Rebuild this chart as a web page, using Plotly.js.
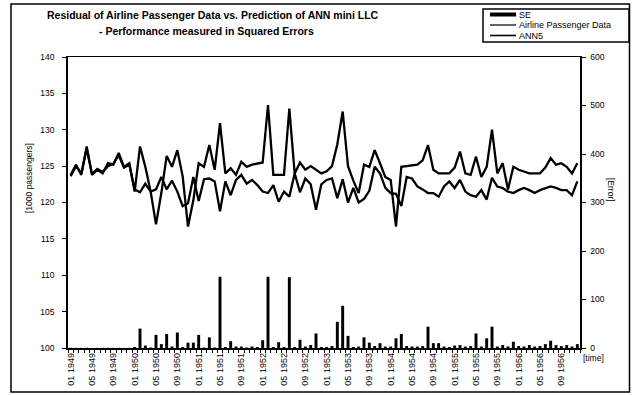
<!DOCTYPE html>
<html>
<head>
<meta charset="utf-8">
<script src="https://cdn.plot.ly/plotly-3.0.1.min.js"></script>
<style>
  html, body { margin: 0; padding: 0; background: #ffffff; }
  #chart { width: 633px; height: 395px; }
</style>
</head>
<body>
<div id="chart"></div>
<script>
// ---- data ----
const years = ['1949','1950','1951','1952','1953','1954','1955','1956'];
const monthNums = ['01','02','03','04','05','06','07','08','09','10','11','12'];
const categories = [];
years.forEach(y => monthNums.forEach(m => categories.push(m + ' ' + y)));

const tickLabels = ['01 1949','05 1949','09 1949','01 1950','05 1950','09 1950',
  '01 1951','05 1951','09 1951','01 1952','05 1952','09 1952',
  '01 1953','05 1953','09 1953','01 1954','05 1954','09 1954',
  '01 1955','05 1955','09 1955','01 1956','05 1956','09 1956'];

const passengerData = [
  123.8,125.2,123.8,127.7,123.8,124.5,124.0,125.4,125.2,126.8,124.9,125.4,
  121.5,127.7,124.9,121.5,117.0,121.3,126.4,124.9,127.2,123.6,116.7,120.3,
  125.4,124.9,127.9,124.5,130.9,124.0,124.7,123.8,125.6,124.9,125.2,125.4,
  125.5,133.4,123.8,123.8,123.8,132.9,124.0,125.5,124.5,125.0,124.5,124.0,
  124.3,125.0,128.0,132.5,125.0,123.0,121.3,125.2,124.9,127.2,125.4,123.5,
  123.1,116.7,124.9,125.0,125.2,125.2,125.8,127.9,124.5,124.0,124.0,124.0,
  124.8,127.0,124.0,123.8,126.3,123.5,124.9,130.0,124.0,125.4,121.8,124.9,
  124.5,124.2,124.0,124.0,124.0,124.8,126.1,125.2,125.4,124.9,124.0,125.4];

const ann5 = [
  123.6,125.0,124.0,127.4,123.9,124.6,124.2,125.0,125.3,126.5,124.8,125.2,
  121.8,121.4,122.6,121.5,121.8,123.5,121.8,123.0,121.5,119.5,119.9,123.5,
  120.2,123.2,123.3,122.9,118.8,122.9,121.0,123.1,123.8,122.6,123.1,122.4,
  121.5,121.3,122.4,120.1,121.5,120.8,124.0,121.4,123.3,122.5,119.0,122.5,
  123.1,123.3,120.6,123.2,120.0,122.0,120.0,120.5,121.6,124.9,124.0,122.0,
  121.3,121.2,119.5,123.5,123.3,122.2,121.8,121.3,121.3,120.8,122.2,122.9,
  122.0,123.1,121.5,121.0,120.8,121.7,120.4,123.4,122.2,122.0,121.5,121.3,
  121.7,122.0,121.7,121.3,121.7,122.0,122.2,122.0,121.7,121.7,121.0,122.9];

const squaredErrors = [
  0.5,0.3,0.2,0.4,0.1,0.2,0.3,0.4,0.2,0.3,0.2,0.3,
  2,40,5,1,27,8,29,3,32,2,11,11,
  27,1,22,1,147,2,14,3,3,1,3,2,
  16,147,2,12,2,146,2,17,3,6,30,2,
  2,4,54,87,25,2,3,22,11,4,10,3,
  3,20,29,4,3,3,4,44,10,10,3,2,
  5,6,3,4,30,3,20,44,3,6,3,13,
  4,3,6,3,4,8,15,6,4,6,3,8];

const seriesNames = ['SE', 'Airline Passenger Data', 'ANN5'];
const titleLines = ['Residual of Airline Passenger Data vs. Prediction of ANN mini LLC',
                    '- Performance measured in Squared Errors'];

// ---- geometry helpers (pixel -> paper) ----
const W = 633, H = 395, ML = 68, MR = 53, MT = 57, MB = 47;
const PW = W - ML - MR, PH = H - MT - MB;
const px = x => (x - ML) / PW;
const py = y => (H - MB - y) / PH;

const FONT = 'Liberation Sans, Arial, sans-serif';

const tickText = categories.map(c => tickLabels.includes(c) ? c : '');

const traces = [
  {
    type: 'bar', name: seriesNames[0], x: categories, y: squaredErrors,
    yaxis: 'y2', marker: { color: '#000000', line: { width: 0 } }, width: 0.55
  },
  {
    type: 'scatter', mode: 'lines', name: seriesNames[1], x: categories, y: passengerData,
    line: { color: '#000000', width: 2.3 }
  },
  {
    type: 'scatter', mode: 'lines', name: seriesNames[2], x: categories, y: ann5,
    line: { color: '#000000', width: 2.3 }
  }
];

const legY = [14.5, 25, 35.5];
const shapes = [
  // outer frame
  { type: 'rect', layer: 'above', xref: 'paper', yref: 'paper', x0: px(11), x1: px(629.5), y0: py(392), y1: py(4),
    line: { color: '#000000', width: 1.5 }, fillcolor: 'rgba(0,0,0,0)' },
  // legend box
  { type: 'rect', layer: 'above', xref: 'paper', yref: 'paper', x0: px(483), x1: px(629), y0: py(42), y1: py(9),
    line: { color: '#000000', width: 1.5 }, fillcolor: 'rgba(0,0,0,0)' },
  // legend samples
  { type: 'rect', layer: 'above', xref: 'paper', yref: 'paper', x0: px(490), x1: px(516), y0: py(legY[0] + 2), y1: py(legY[0] - 2),
    line: { width: 0 }, fillcolor: '#000000' },
  { type: 'line', layer: 'above', xref: 'paper', yref: 'paper', x0: px(490), x1: px(516), y0: py(legY[1]), y1: py(legY[1]),
    line: { color: '#000000', width: 1.2 } },
  { type: 'line', layer: 'above', xref: 'paper', yref: 'paper', x0: px(490), x1: px(516), y0: py(legY[2]), y1: py(legY[2]),
    line: { color: '#000000', width: 1.6 } }
];

const annotations = [
  { text: '<b>' + titleLines[0] + '</b>', xref: 'paper', yref: 'paper', x: px(213), y: py(15),
    xanchor: 'center', yanchor: 'middle', showarrow: false, font: { family: FONT, size: 10.5, color: '#000' } },
  { text: '<b>' + titleLines[1] + '</b>', xref: 'paper', yref: 'paper', x: px(206), y: py(31),
    xanchor: 'center', yanchor: 'middle', showarrow: false, font: { family: FONT, size: 10.5, color: '#000' } },
  { text: '[1000 passengers]', xref: 'paper', yref: 'paper', x: px(29), y: py(178), textangle: -90,
    xanchor: 'center', yanchor: 'middle', showarrow: false, font: { family: FONT, size: 8.5, color: '#000' } },
  { text: '[Error]', xref: 'paper', yref: 'paper', x: px(611), y: py(190), textangle: 90,
    xanchor: 'center', yanchor: 'middle', showarrow: false, font: { family: FONT, size: 8.5, color: '#000' } },
  { text: '[time]', xref: 'paper', yref: 'paper', x: px(593), y: py(358),
    xanchor: 'center', yanchor: 'middle', showarrow: false, font: { family: FONT, size: 8.5, color: '#000' } }
];
seriesNames.forEach((n, i) => annotations.push({
  text: n, xref: 'paper', yref: 'paper', x: px(518), y: py(legY[i]), borderpad: 0,
  xanchor: 'left', yanchor: 'middle', showarrow: false, font: { family: FONT, size: 9, color: '#000' }
}));

const layout = {
  width: W, height: H,
  margin: { l: ML, r: MR, t: MT, b: MB, pad: 0 },
  paper_bgcolor: '#ffffff', plot_bgcolor: '#ffffff',
  showlegend: false,
  font: { family: FONT, size: 8, color: '#000' },
  xaxis: {
    type: 'category', categoryorder: 'array', categoryarray: categories,
    tickmode: 'array', tickvals: categories, ticktext: tickText,
    tickson: 'boundaries', ticks: 'outside', ticklen: 3, tickwidth: 1, tickcolor: '#000',
    tickangle: -90, tickfont: { family: FONT, size: 9, color: '#000' },
    showline: true, linecolor: '#000', linewidth: 1.5, mirror: true,
    showgrid: false, zeroline: false, range: [-0.5, 95.5]
  },
  yaxis: {
    range: [100, 140], tickvals: [100, 105, 110, 115, 120, 125, 130, 135, 140],
    ticks: 'outside', ticklen: 4, tickcolor: '#000', ticklabelstandoff: 6,
    tickfont: { family: FONT, size: 8.5, color: '#000' },
    showline: true, linecolor: '#000', linewidth: 1.8,
    showgrid: false, zeroline: false
  },
  yaxis2: {
    range: [0, 600], tickvals: [0, 100, 200, 300, 400, 500, 600],
    overlaying: 'y', side: 'right',
    ticks: 'outside', ticklen: 4, tickcolor: '#000', ticklabelstandoff: 3,
    tickfont: { family: FONT, size: 8.5, color: '#000' },
    showline: true, linecolor: '#000', linewidth: 1.5,
    showgrid: false, zeroline: false
  },
  shapes: shapes,
  annotations: annotations
};

Plotly.newPlot('chart', traces, layout, { displayModeBar: false, staticPlot: true });
</script>
</body>
</html>
